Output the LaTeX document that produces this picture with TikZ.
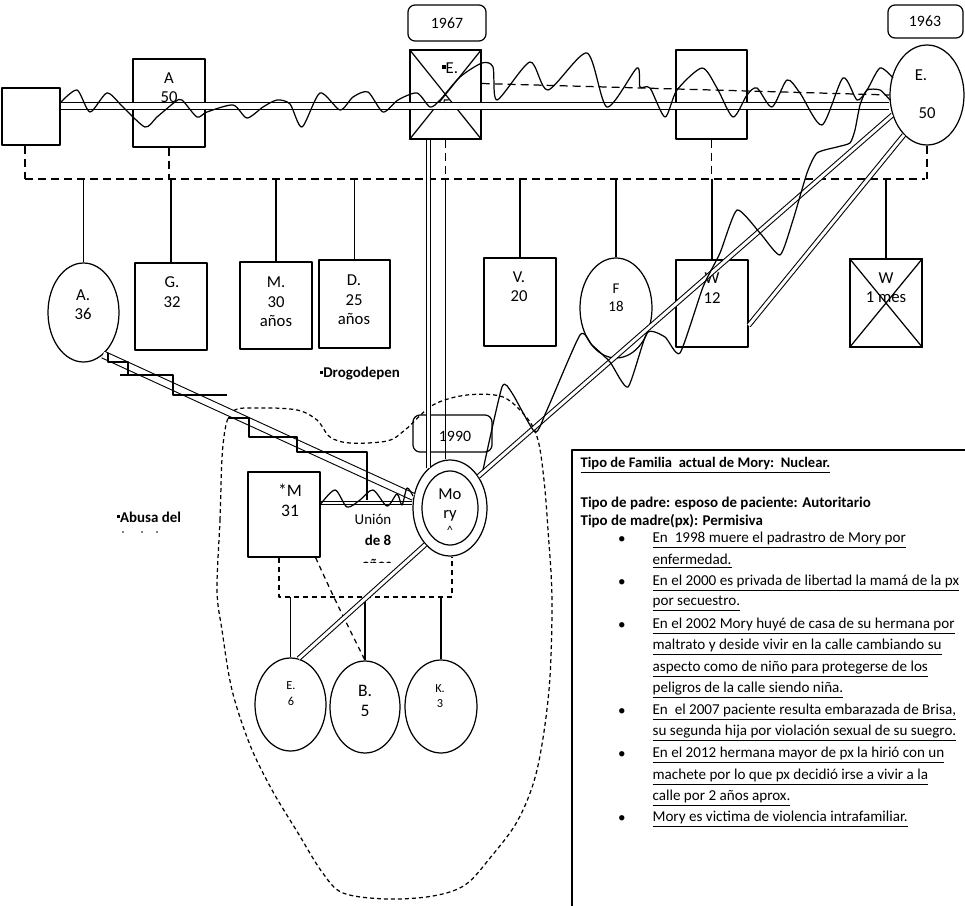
\documentclass[tikz,border=0pt]{standalone}
\usepackage{fontspec}
\setmainfont{Carlito}
\usetikzlibrary{calc,shapes.geometric}
\newlength\unitpx
\setlength\unitpx{0.02cm}
\newcommand\sqmark{\raisebox{0.55ex}{\rule{0.22em}{0.22em}}}
\begin{document}
\begin{tikzpicture}[x=0.02cm,y=-0.02cm,line width=0.7pt,line join=round,
  box/.style={draw,rectangle,inner sep=0pt},
  ell/.style={draw,ellipse,inner sep=0pt},
  yearbox/.style={draw,rectangle,rounded corners=4pt,inner sep=0pt},
  lbl/.style={inner sep=0pt,align=center,font=\fontsize{9.5}{11}\selectfont},
  small/.style={inner sep=0pt,align=center,font=\fontsize{7}{9}\selectfont},
  tb/.style={inner sep=0pt,anchor=west,font=\fontsize{8.6}{10}\selectfont},
  tbb/.style={inner sep=0pt,anchor=west,font=\fontsize{8.5}{10}\selectfont\bfseries},
  bul/.style={inner sep=0pt,font=\fontsize{8.6}{10}\selectfont},
  sibdash/.style={dash pattern=on 8\unitpx off 5\unitpx},
  kiddash/.style={dash pattern=on 5\unitpx off 4\unitpx},
  hhdash/.style={dash pattern=on 4\unitpx off 3\unitpx},
  dblw/.style={double,double distance=6\unitpx,line width=0.6pt},
  dbl/.style={double,double distance=3\unitpx,line width=0.6pt},
  dblt/.style={double,double distance=1.5\unitpx,line width=0.7pt},
  wave/.style={line width=0.7pt}]
\useasboundingbox (0,0) rectangle (965,906);

% ---------- generation 1 ----------
\node[box,minimum width=58\unitpx,minimum height=57\unitpx] (Lsq) at (31,116.5) {};
\node[box,minimum width=72\unitpx,minimum height=88\unitpx] (A50) at (169,103) {};
\node[box,minimum width=71\unitpx,minimum height=89\unitpx] (Ebox) at (445.5,94.5) {};
\node[box,minimum width=71\unitpx,minimum height=89\unitpx] (Rbox) at (711.5,94.5) {};
\node[yearbox,minimum width=78\unitpx,minimum height=36\unitpx] (y1967) at (447,23) {};
\node[yearbox,minimum width=75\unitpx,minimum height=33\unitpx] (y1963) at (925.5,21.5) {};
\node[ell,minimum width=74\unitpx,minimum height=100\unitpx] (Eell) at (927,95) {};
\draw (Ebox.north west) -- (Ebox.south east) (Ebox.north east) -- (Ebox.south west);

% ---------- generation 2 ----------
\node[ell,minimum width=71\unitpx,minimum height=99\unitpx] (A36) at (83.5,312.5) {};
\node[box,minimum width=72\unitpx,minimum height=87\unitpx] (G32) at (171,306.5) {};
\node[box,minimum width=72\unitpx,minimum height=87\unitpx] (M30) at (276,305.5) {};
\node[box,minimum width=71\unitpx,minimum height=88\unitpx] (D25) at (354.5,304) {};
\node[box,minimum width=72\unitpx,minimum height=88\unitpx] (V20) at (520,302) {};
\node[ell,minimum width=72\unitpx,minimum height=100\unitpx] (F18) at (616,308) {};
\node[box,minimum width=72\unitpx,minimum height=87\unitpx] (W12) at (712,303.5) {};
\node[box,minimum width=72\unitpx,minimum height=88\unitpx] (W1) at (886,303) {};
\draw (W1.north west) -- (W1.south east) (W1.north east) -- (W1.south west);

% ---------- nuclear family ----------
\node[box,minimum width=72\unitpx,minimum height=85\unitpx] (M31) at (284,514.5) {};
\node[ell,minimum width=74\unitpx,minimum height=96\unitpx] (Mory) at (450,508) {};
\node[ell,minimum width=56\unitpx,minimum height=74\unitpx] (Moryin) at (450,508) {};
\node[yearbox,minimum width=79\unitpx,minimum height=37\unitpx] (y1990) at (452.5,433.5) {};
\node[ell,minimum width=71\unitpx,minimum height=93\unitpx] (E6) at (290.5,704.5) {};
\node[ell,minimum width=70\unitpx,minimum height=92\unitpx] (B5) at (365,707) {};
\node[ell,minimum width=72\unitpx,minimum height=93\unitpx] (K3) at (441,706.5) {};

% ---------- labels ----------
\node[lbl,font=\fontsize{9}{11}\selectfont] (t1967) at (447,23) {1967};
\node[lbl,font=\fontsize{9}{11}\selectfont] (t1963) at (925,21) {1963};
\node[lbl] (tA50) at (169,87.5) {A\\50};
\node[lbl] (tEbox) at (450,68) {\sqmark E.};
\node[lbl] (tEbox5) at (446,105) {5};
\node[lbl] (tEell1) at (921,75) {E.};
\node[lbl] (tEell2) at (927,113) {50};
\node[lbl] (tA36) at (83,305) {A.\\36};
\node[lbl] (tG32) at (172,292) {G.\\32};
\node[lbl] (tM30) at (276,302) {M.\\30\\años};
\node[lbl] (tD25) at (354,300) {D.\\25\\años};
\node[lbl] (tV20) at (519,287) {V.\\20};
\node[lbl,font=\fontsize{8.5}{10.2}\selectfont] (tF18) at (616,298) {F\\18};
\node[lbl] (tW12) at (712,288) {W\\12};
\node[lbl] (tW1) at (886,288) {W\\1 mes};
\node[lbl,font=\fontsize{10}{11.3}\selectfont] (tM31) at (290,500) {*M\\31};
\node[lbl] (tMory) at (450,505) {Mo\\ry};
\node[lbl,font=\fontsize{7}{8}\selectfont] (tMory3) at (450,530) {\textasciicircum};
\node[lbl,font=\fontsize{9}{11}\selectfont] (t1990) at (455,436) {1990};
\node[small] (tE6) at (291,694) {E.\\6};
\node[lbl,font=\fontsize{10}{11.3}\selectfont] (tB5) at (365,701) {B.\\5};
\node[small] (tK3) at (440,696) {K.\\3};
\node[lbl,font=\fontsize{8.5}{10}\selectfont] (tUnion) at (373,519) {Unión};
\node[lbl,font=\fontsize{8.5}{10}\selectfont\bfseries] (tde8) at (378,540) {de 8};
\begin{scope}
\clip (340,550) rectangle (420,562.5);
\node[lbl,font=\fontsize{8.5}{10}\selectfont\bfseries] (tanos) at (377,564) {años};
\end{scope}
\node[lbl,font=\fontsize{8.5}{10}\selectfont\bfseries] (tDrogo) at (360,374) {\sqmark Drogodepen};
\node[lbl,font=\fontsize{8.5}{10}\selectfont\bfseries] (tAbusa) at (149,517) {\sqmark Abusa del};
\fill (123,532) circle (0.8) (142,532) circle (0.8) (157,532) circle (0.8);

% ---------- sibling line and descent lines ----------
\coordinate (sibL) at (25,179);
\coordinate (sibR) at (925,179);
\draw[sibdash] (sibL) -- (sibR);
\draw[sibdash] (Lsq.south -| sibL) -- (sibL);
\draw[sibdash] (A50.south) -- (A50.south |- sibL);
\draw[sibdash] (Ebox.south) -- (Ebox.south |- sibL);
\draw[sibdash] (Rbox.south) -- (Rbox.south |- sibL);
\draw[sibdash] (Eell.south) -- (Eell.south |- sibR);
\draw (A36.north |- sibL) -- (A36.north);
\draw (G32.north |- sibL) -- (G32.north);
\draw (M30.north |- sibL) -- (M30.north);
\draw (D25.north |- sibL) -- (D25.north);
\draw (V20.north |- sibL) -- (V20.north);
\draw (F18.north |- sibL) -- (F18.north);
\draw (W12.north |- sibL) -- (W12.north);
\draw (W1.north |- sibL) -- (W1.north);
\draw (Ebox.south |- sibL) -- (Mory.north -| Ebox.south);

% dashed link E box -- E ellipse
\draw[sibdash] ($(Ebox.east)+(0,-11)$) -- (Eell.west);

% children of M31 and Mory
\coordinate (kL) at (279,597);
\coordinate (kR) at (452,597);
\draw[kiddash] (M31.south -| kL) -- (kL) -- (kR) -- (Mory.south -| kR);
\draw (E6.north |- kL) -- (E6.north);
\draw (B5.north |- kL) -- (B5.north);
\draw (K3.north |- kL) -- (K3.north);
\draw[kiddash] ($(M31.south east)+(-5,0)$) .. controls (335,600) .. (B5.north);

% household boundary
\draw[hhdash] plot[smooth cycle,tension=0.55] coordinates {(217,590) (220,520) (223,445) (232,412) (260,408) (297,410) (317,420) (330,437) (350,443) (387,441) (405,430) (433,405) (467,395) (503,397) (527,418) (538,440) (544,480) (548,530) (552,600) (549,690) (537,770) (518,820) (490,858) (465,885) (433,896) (387,899) (343,893) (322,872) (298,833) (272,790) (250,745) (232,690) (222,630)};

% ---------- text box ----------
\draw (572,906) -- (572,450) -- (965,450);
\node[tbb,font=\fontsize{8.3}{10}\selectfont\bfseries] (tb0) at (580,465) {\underline{Tipo de Familia\ \ actual de Mory:\ \ Nuclear.}};
\node[tbb] (tb1) at (580,503) {Tipo de padre: esposo de paciente: Autoritario};
\node[tbb] (tb2) at (580,521) {Tipo de madre(px): Permisiva};
\node[bul] (bu1) at (622,540) {•};
\node[tb] (l1) at (652,540) {\underline{En\ \ 1998 muere el padrastro de Mory por}};
\node[tb] (l2) at (652,561) {\underline{enfermedad.}};
\node[bul] (bu2) at (622,583) {•};
\node[tb] (l3) at (652,583) {\underline{En el 2000 es privada de libertad la mamá de la px}};
\node[tb] (l4) at (652,604) {\underline{por secuestro.}};
\node[bul] (bu3) at (622,626) {•};
\node[tb] (l5) at (652,626) {\underline{En el 2002 Mory huyé de casa de su hermana por}};
\node[tb] (l6) at (652,647) {\underline{maltrato y deside vivir en la calle cambiando su}};
\node[tb] (l7) at (652,669) {\underline{aspecto como de niño para protegerse de los}};
\node[tb] (l8) at (652,690) {\underline{peligros de la calle siendo niña.}};
\node[bul] (bu4) at (622,712) {•};
\node[tb] (l9) at (652,712) {\underline{En\ \ el 2007 paciente resulta embarazada de Brisa,}};
\node[tb] (l10) at (652,733) {\underline{su segunda hija por violación sexual de su suegro.}};
\node[bul] (bu5) at (622,755) {•};
\node[tb] (l11) at (652,755) {\underline{En el 2012 hermana mayor de px la hirió con un}};
\node[tb] (l12) at (652,777) {\underline{machete por lo que px decidió irse a vivir a la}};
\node[tb] (l13) at (652,798) {\underline{calle por 2 años aprox.}};
\node[bul] (bu6) at (622,819) {•};
\node[tb] (l14) at (652,819) {\underline{Mory es victima de violencia intrafamiliar.}};

% ---------- double relationship lines ----------
\coordinate (mline) at (0,106);
\draw[dblw] (Lsq.east |- mline) -- (Eell.west |- mline);
\draw[dbl] (Mory.119) -- (Mory.119 |- Ebox.south);
\draw[dbl] (Eell.210) -- (Mory.48);
\draw[dbl] (Eell.240) -- (W12.-31);
\draw[dbl] (Mory.236) -- (E6.80);
\draw[dblw] (A36.295) -- (Mory.163);
\draw[dblt] (M31.east |- 0,503) -- (Mory.west |- 0,503);

% ---------- conflict waves ----------
\draw[wave] plot[smooth,tension=0.45] coordinates {(60,103) (77,90) (90,112) (107,93) (123,107) (145,127) (157,117) (175,102) (182,100) (197,117) (207,112) (233,105) (247,118) (263,107) (277,100) (290,104) (302,127) (320,93) (340,110) (353,97) (368,92) (383,112) (398,100) (417,93) (430,107) (440,100) (460,77) (482,63) (493,67) (497,100) (530,62) (548,90) (587,53) (607,107) (637,68) (640,87) (650,88) (665,117) (677,90) (702,68) (717,88) (733,117) (747,95) (757,88) (772,107) (787,80) (800,93) (822,125) (843,78) (857,100) (867,90) (880,68) (893,78)};
\draw[wave] plot[smooth,tension=0.35] coordinates {(483,470) (502,387) (512,393) (535,432) (547,410) (580,335) (592,345) (610,362) (628,387) (647,333) (665,337) (680,353) (703,287) (720,253) (737,210) (760,233) (780,255) (793,220) (807,173) (817,153) (837,147) (850,143) (855,130) (860,105) (867,90) (880,90) (890,100)};
\draw[wave] plot[smooth,tension=0.5] coordinates {(320,505) (335,490) (347,507) (360,500) (373,490) (387,506) (397,494) (402,505) (407,488) (413,496)};

% ---------- hostility steps ----------
\draw (108,353) -- (108,362) -- (128,362) -- (128,375);
\draw (120,375) -- (173,375) -- (173,395) -- (227,395);
\draw (228,418) -- (249,418) -- (249,437) -- (297,437) -- (297,452) -- (367,452) -- (367,500);
\end{tikzpicture}
\end{document}
